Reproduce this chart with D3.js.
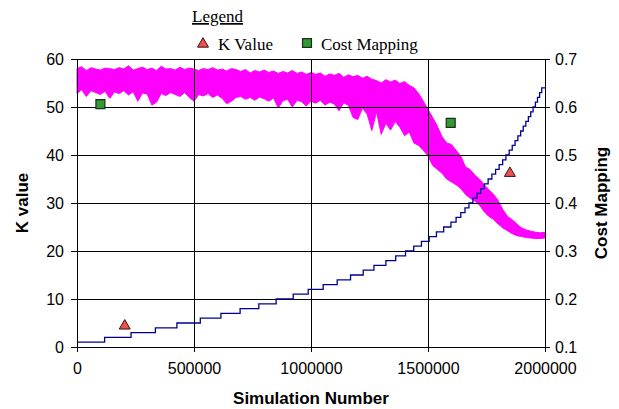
<!DOCTYPE html>
<html>
<head>
<meta charset="utf-8">
<script src="https://cdn.jsdelivr.net/npm/d3@7"></script>
<style>
  html, body { margin: 0; padding: 0; background: #fff; }
  svg { display: block; }
  .tick text { font-family: "Liberation Sans", Arial, sans-serif; font-size: 16px; fill: #000; }
</style>
</head>
<body>
<svg id="chart" width="619" height="409"></svg>
<script>
// ---------- data ----------
const xTicks = [0, 500000, 1000000, 1500000, 2000000];
const kTicks = [0, 10, 20, 30, 40, 50, 60];
const costTicks = [0.1, 0.2, 0.3, 0.4, 0.5, 0.6, 0.7];

// K value step series: simulation number where each K level starts
const kStepSim = [0, 118000, 231000, 335000, 427000, 527000, 615000, 697000, 777000, 851000,
  924000, 988000, 1052000, 1112000, 1169000, 1223000, 1269000, 1320000, 1362000, 1404000,
  1439000, 1472000, 1505000, 1536000, 1567000, 1598000, 1620000, 1640000, 1658000, 1675000,
  1692000, 1709000, 1725000, 1741000, 1757000, 1773000, 1789000, 1804000, 1819000, 1833000,
  1847000, 1860000, 1872000, 1884000, 1896000, 1907000, 1918000, 1929000, 1939000, 1949000,
  1959000, 1968000, 1977000, 1986000, 2000000];
const kStepValue = [1, 2, 3, 4, 5, 6, 7, 8, 9, 10,
  11, 12, 13, 14, 15, 16, 17, 18, 19, 20,
  21, 22, 23, 24, 25, 26, 27, 28, 29, 30,
  31, 32, 33, 34, 35, 36, 37, 38, 39, 40,
  41, 42, 43, 44, 45, 46, 47, 48, 49, 50,
  51, 52, 53, 54, 54];

// Cost mapping (noisy band) read as upper / lower envelope every 20000 simulations
const costSim = [0, 20000, 40000, 60000, 80000, 100000, 120000, 140000, 160000, 180000,
  200000, 220000, 240000, 260000, 280000, 300000, 320000, 340000, 360000, 380000,
  400000, 420000, 440000, 460000, 480000, 500000, 520000, 540000, 560000, 580000,
  600000, 620000, 640000, 660000, 680000, 700000, 720000, 740000, 760000, 780000,
  800000, 820000, 840000, 860000, 880000, 900000, 920000, 940000, 960000, 980000,
  1000000, 1020000, 1040000, 1060000, 1080000, 1100000, 1120000, 1140000, 1160000, 1180000,
  1200000, 1220000, 1240000, 1260000, 1280000, 1300000, 1320000, 1340000, 1360000, 1380000,
  1400000, 1420000, 1440000, 1460000, 1480000, 1500000, 1520000, 1540000, 1560000, 1580000,
  1600000, 1620000, 1640000, 1660000, 1680000, 1700000, 1720000, 1740000, 1760000, 1780000,
  1800000, 1820000, 1840000, 1860000, 1880000, 1900000, 1920000, 1940000, 1960000, 1980000,
  2000000];
const costHigh = [0.680, 0.684, 0.676, 0.682, 0.679, 0.677, 0.681, 0.680, 0.678, 0.682,
  0.679, 0.686, 0.677, 0.680, 0.683, 0.678, 0.681, 0.676, 0.685, 0.679,
  0.680, 0.677, 0.683, 0.678, 0.681, 0.679, 0.676, 0.680, 0.678, 0.682,
  0.677, 0.679, 0.675, 0.680, 0.678, 0.674, 0.678, 0.671, 0.676, 0.673,
  0.677, 0.672, 0.675, 0.670, 0.674, 0.671, 0.676, 0.670, 0.673, 0.668,
  0.672, 0.668, 0.671, 0.664, 0.669, 0.666, 0.670, 0.662, 0.667, 0.663,
  0.666, 0.660, 0.664, 0.658, 0.655, 0.650, 0.657, 0.652, 0.656, 0.649,
  0.653, 0.645, 0.640, 0.628, 0.612, 0.595, 0.578, 0.560, 0.538, 0.525,
  0.522, 0.510, 0.498, 0.475, 0.470, 0.458, 0.450, 0.438, 0.428, 0.418,
  0.405, 0.386, 0.372, 0.365, 0.356, 0.348, 0.344, 0.341, 0.339, 0.338,
  0.339];
const costLow = [0.628, 0.636, 0.622, 0.634, 0.630, 0.626, 0.633, 0.618, 0.631, 0.628,
  0.634, 0.625, 0.632, 0.612, 0.629, 0.627, 0.604, 0.610, 0.628, 0.624,
  0.630, 0.626, 0.622, 0.630, 0.620, 0.612, 0.626, 0.623, 0.628, 0.620,
  0.625, 0.618, 0.607, 0.612, 0.620, 0.622, 0.616, 0.620, 0.614, 0.621,
  0.617, 0.612, 0.619, 0.598, 0.613, 0.616, 0.600, 0.614, 0.611, 0.602,
  0.612, 0.608, 0.614, 0.604, 0.610, 0.606, 0.592, 0.609, 0.603, 0.578,
  0.574, 0.598, 0.585, 0.551, 0.590, 0.543, 0.566, 0.552, 0.570, 0.558,
  0.540, 0.548, 0.525, 0.520, 0.510, 0.498, 0.478, 0.470, 0.462, 0.450,
  0.444, 0.438, 0.430, 0.418, 0.410, 0.404, 0.396, 0.382, 0.372, 0.366,
  0.356, 0.348, 0.342, 0.336, 0.332, 0.330, 0.328, 0.327, 0.326, 0.326,
  0.327];

// Legend / sample markers
const legendTitle = "Legend";
const legendLabels = ["K Value", "Cost Mapping"];
const kMarkerSim = [204000, 1850000];
const kMarkerValue = [4.4, 36.2];
const costMarkerSim = [100000, 1597000];
const costMarkerValue = [0.606, 0.567];

const xTitle = "Simulation Number";
const yLeftTitle = "K value";
const yRightTitle = "Cost Mapping";

// ---------- drawing ----------
const svg = d3.select("#chart");
const x = d3.scaleLinear().domain([0, 2000000]).range([77, 545]);
const yK = d3.scaleLinear().domain([0, 60]).range([347, 59]);
const yC = d3.scaleLinear().domain([0.1, 0.7]).range([347, 59]);

const magenta = "#ff00ff";
const navy = "#000090";

// cost mapping band
const band = costSim.map((s, i) => ({ s, hi: costHigh[i], lo: costLow[i] }));
svg.append("path")
  .datum(band)
  .attr("d", d3.area().x(d => x(d.s)).y0(d => yC(d.lo)).y1(d => yC(d.hi)))
  .attr("fill", magenta)
  .attr("stroke", magenta)
  .attr("stroke-width", 1);

// gridlines
const grid = svg.append("g").attr("stroke", "#000").attr("stroke-width", 1).attr("shape-rendering", "crispEdges");
grid.selectAll("line.h").data(kTicks.filter(t => t > 0)).join("line")
  .attr("x1", x(0)).attr("x2", x(2000000))
  .attr("y1", d => Math.round(yK(d)) + 0.5).attr("y2", d => Math.round(yK(d)) + 0.5);
grid.selectAll("line.v").data(xTicks.filter(t => t > 0 && t < 2000000)).join("line")
  .attr("y1", yK(60)).attr("y2", yK(0))
  .attr("x1", d => Math.round(x(d)) + 0.5).attr("x2", d => Math.round(x(d)) + 0.5);

// K value step line
const steps = kStepSim.map((s, i) => ({ s, k: kStepValue[i] }));
svg.append("path")
  .datum(steps)
  .attr("d", d3.line().x(d => x(d.s)).y(d => yK(d.k)).curve(d3.curveStepAfter))
  .attr("fill", "none")
  .attr("stroke", navy)
  .attr("stroke-width", 1.3);

// markers
const tri = d3.symbol().type(d3.symbolTriangle).size(52);
const sq = d3.symbol().type(d3.symbolSquare).size(80);
svg.append("g").selectAll("path").data(kMarkerSim.map((s, i) => [s, kMarkerValue[i]])).join("path")
  .attr("d", tri)
  .attr("transform", d => `translate(${x(d[0])},${yK(d[1])})`)
  .attr("fill", "#ee5050").attr("stroke", "#3a1010").attr("stroke-width", 1);
svg.append("g").selectAll("path").data(costMarkerSim.map((s, i) => [s, costMarkerValue[i]])).join("path")
  .attr("d", sq)
  .attr("transform", d => `translate(${x(d[0])},${yC(d[1])})`)
  .attr("fill", "#339933").attr("stroke", "#1a2e1a").attr("stroke-width", 1.2);

// axes
const fmtX = d3.format("d");
const gx = svg.append("g").attr("transform", "translate(0,347)")
  .call(d3.axisBottom(x).tickValues(xTicks).tickFormat(fmtX).tickSizeOuter(0));
gx.selectAll(".tick line").attr("y1", -3).attr("y2", 5);
gx.selectAll(".tick text").attr("y", 16);

const gl = svg.append("g").attr("transform", "translate(77,0)")
  .call(d3.axisLeft(yK).tickValues(kTicks).tickSizeOuter(0));
gl.selectAll(".tick line").attr("x1", 3).attr("x2", -6);
gl.selectAll(".tick text").attr("x", -13);

const gr = svg.append("g").attr("transform", "translate(545,0)")
  .call(d3.axisRight(yC).tickValues(costTicks).tickFormat(d3.format(".1f")).tickSizeOuter(0));
gr.selectAll(".tick line").attr("x1", -3).attr("x2", 5);
gr.selectAll(".tick text").attr("x", 10);

[gx, gl, gr].forEach(g => {
  g.select(".domain").attr("stroke", "#000").attr("stroke-width", 1);
  g.selectAll(".tick line").attr("stroke", "#000");
});

// top border line
svg.append("line").attr("x1", 71).attr("x2", 550).attr("y1", 59.5).attr("y2", 59.5)
  .attr("stroke", "#000").attr("shape-rendering", "crispEdges");

// axis titles
const titleFont = "'Liberation Sans', Arial, sans-serif";
svg.append("text").attr("x", 311).attr("y", 404).attr("text-anchor", "middle")
  .attr("font-family", titleFont).attr("font-weight", "bold").attr("font-size", 17).text(xTitle);
svg.append("text").attr("transform", "translate(28,203) rotate(-90)").attr("text-anchor", "middle")
  .attr("font-family", titleFont).attr("font-weight", "bold").attr("font-size", 17).text(yLeftTitle);
svg.append("text").attr("transform", "translate(607,203) rotate(-90)").attr("text-anchor", "middle")
  .attr("font-family", titleFont).attr("font-weight", "bold").attr("font-size", 17).text(yRightTitle);

// legend
const serif = "'Liberation Serif', 'Times New Roman', serif";
svg.append("text").attr("x", 192).attr("y", 22).attr("font-family", serif).attr("font-size", 17)
  .attr("text-decoration", "underline").text(legendTitle);
svg.append("path").attr("d", tri).attr("transform", "translate(203,44)")
  .attr("fill", "#ee5050").attr("stroke", "#3a1010").attr("stroke-width", 1);
svg.append("text").attr("x", 218).attr("y", 50).attr("font-family", serif).attr("font-size", 17).text(legendLabels[0]);
svg.append("path").attr("d", sq).attr("transform", "translate(307,43)")
  .attr("fill", "#339933").attr("stroke", "#1a2e1a").attr("stroke-width", 1.2);
svg.append("text").attr("x", 321).attr("y", 50).attr("font-family", serif).attr("font-size", 17).text(legendLabels[1]);
</script>
</body>
</html>
